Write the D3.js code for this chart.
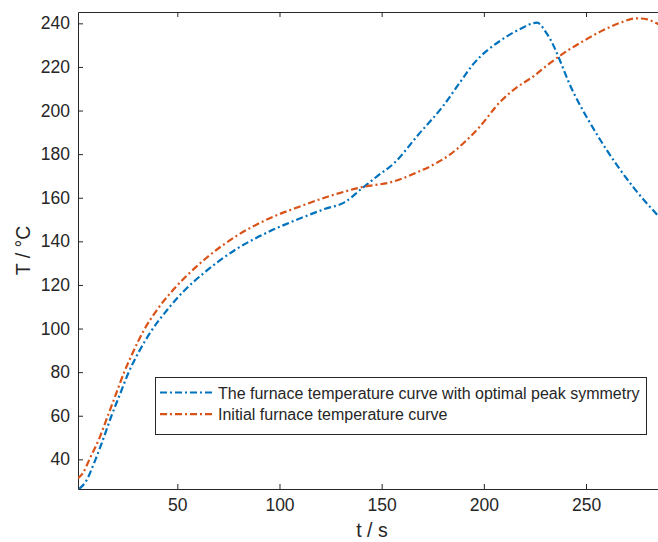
<!DOCTYPE html>
<html>
<head>
<meta charset="utf-8">
<script src="https://cdn.jsdelivr.net/npm/d3@7"></script>
<style>
  html, body { margin: 0; padding: 0; background: #fff; }
  svg { display: block; font-family: "Liberation Sans", Arial, Helvetica, sans-serif; }
</style>
</head>
<body>
<svg id="chart" width="658" height="542"></svg>
<script>
// ---- data ----
const optimalT = [2, 5, 10, 14, 18, 22, 26, 31, 37, 45, 53, 63, 79, 95, 110, 122, 132, 140, 148, 156, 168, 180, 188, 195, 208, 218, 226, 231, 244, 257, 273, 285, 292];
const optimalTemp = [26.5, 29.5, 40, 50, 60.5, 70, 79.5, 89, 98.5, 108.5, 117, 125.5, 136.5, 144.5, 150.5, 154.8, 158, 164, 170, 175.8, 189, 202, 212.5, 221.5, 232, 237.5, 240.3, 235, 208, 186.5, 165, 152, 145];
const initialT = [1.4, 4, 7, 12, 16, 20, 24, 28.5, 33.5, 40, 48, 56, 65, 79, 95, 110, 126, 140, 156, 167, 176, 183, 190, 198, 208, 216, 224, 232, 240, 248, 257, 266, 275, 280, 285, 292];
const initialTemp = [31.2, 34, 40, 50, 60, 70, 80, 89.5, 99, 108.5, 117.8, 125.5, 133, 142.5, 150.5, 156, 161.2, 164.8, 167.5, 171.5, 175.5, 179.5, 185, 192.6, 204, 210.5, 215.5, 221.5, 226.9, 231.5, 236.2, 240, 242.3, 241.8, 239.8, 236];
const xTicks = [50, 100, 150, 200, 250];
const yTicks = [40, 60, 80, 100, 120, 140, 160, 180, 200, 220, 240];
const seriesNames = ["The furnace temperature curve with optimal peak symmetry", "Initial furnace temperature curve"];
const xLabel = "t / s";
const yLabel = "T / °C";

// ---- layout ----
const svg = d3.select("#chart");
const L = 78, T = 12, B = 489, R = 688.2;
const x = d3.scaleLinear().domain([1.4, 300]).range([L, R]);
const y = d3.scaleLinear().domain([26.4, 245.2]).range([B, T]);
const axisColor = "#262626";
const colors = ["#0072BD", "#D95319"];
const dash = "7,3,2,3";

svg.append("defs").append("clipPath").attr("id", "clip")
  .append("rect").attr("x", L).attr("y", T).attr("width", R - L).attr("height", B - T);

// Axes (MATLAB style: ticks inward, box on)
const fs = 17.5;
const xAxis = svg.append("g").attr("transform", `translate(0,${B})`)
  .call(d3.axisBottom(x).tickValues(xTicks).tickSizeInner(-5).tickSizeOuter(0).tickPadding(10));
const xTop = svg.append("g").attr("transform", `translate(0,${T})`)
  .call(d3.axisTop(x).tickValues(xTicks).tickSizeInner(-5).tickSizeOuter(0).tickFormat(""));
const yAxis = svg.append("g").attr("transform", `translate(${L},0)`)
  .call(d3.axisLeft(y).tickValues(yTicks).tickSizeInner(-5).tickSizeOuter(0).tickPadding(8));
[xAxis, xTop, yAxis].forEach(g => {
  g.select(".domain").attr("stroke", axisColor).attr("stroke-width", 1);
  g.selectAll(".tick line").attr("stroke", axisColor);
  g.selectAll(".tick text").attr("fill", axisColor).style("font-size", fs + "px")
    .style("font-family", "'Liberation Sans', Arial, sans-serif");
});
xAxis.selectAll(".tick text").attr("dy", "0.71em");

// Axis labels
svg.append("text").attr("x", (L + 666) / 2).attr("y", 537).attr("text-anchor", "middle")
  .attr("fill", axisColor).style("font-size", "19.5px").text(xLabel);
svg.append("text").attr("transform", `translate(30,${(T + B) / 2}) rotate(-90)`)
  .attr("text-anchor", "middle").attr("fill", axisColor).style("font-size", "19.5px").text(yLabel);

// Lines
const line = d3.line().x(d => x(d[0])).y(d => y(d[1])).curve(d3.curveMonotoneX);
const series = [
  d3.zip(optimalT, optimalTemp),
  d3.zip(initialT, initialTemp)
];
const plot = svg.append("g").attr("clip-path", "url(#clip)");
series.forEach((s, i) => {
  plot.append("path").datum(s).attr("d", line).attr("fill", "none")
    .attr("stroke", colors[i]).attr("stroke-width", 2.2).attr("stroke-dasharray", dash);
});

// Legend
const lg = svg.append("g");
lg.append("rect").attr("x", 155.5).attr("y", 377.5).attr("width", 491).attr("height", 57)
  .attr("fill", "#fff").attr("stroke", axisColor).attr("stroke-width", 1);
seriesNames.forEach((name, i) => {
  const ly = 392.5 + i * 21.7;
  lg.append("line").attr("x1", 160).attr("x2", 215).attr("y1", ly).attr("y2", ly)
    .attr("stroke", colors[i]).attr("stroke-width", 2.2).attr("stroke-dasharray", dash);
  lg.append("text").attr("x", 218).attr("y", ly + 6).attr("fill", axisColor)
    .style("font-size", "16px").text(name);
});
</script>
</body>
</html>
